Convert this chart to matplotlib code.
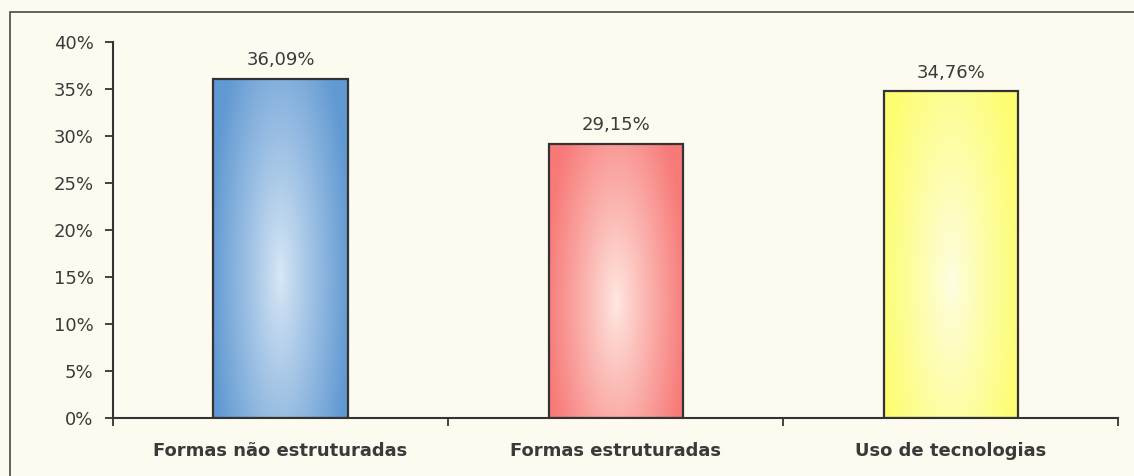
import numpy as np
import matplotlib.pyplot as plt
from matplotlib.patches import Rectangle
from matplotlib.colors import LinearSegmentedColormap

plt.rcParams['font.family'] = ['DejaVu Sans']

# dados
categorias = ['Formas não estruturadas', 'Formas estruturadas', 'Uso de tecnologias']
valores = [36.09, 29.15, 34.76]
rotulos = ['36,09%', '29,15%', '34,76%']
yticks = [0, 5, 10, 15, 20, 25, 30, 35, 40]

# cor da borda e cor do centro do gradiente de cada barra
cores = [('#6199d2', '#d9e8f6'),
         ('#f77a78', '#ffe9e2'),
         ('#fdfd72', '#fefee2')]

fundo = '#fdfbf0'
texto = '#3a3a3a'

fig = plt.figure(figsize=(11.34, 4.76), dpi=100, facecolor=fundo)
ax = fig.add_axes([0.0996, 0.122, 0.8866, 0.79])
ax.set_facecolor(fundo)

# moldura externa (so esquerda e topo aparecem)
fig.patches.append(Rectangle((10 / 1134, -0.1), 1.2, 1.1 - 12 / 476,
                             transform=fig.transFigure, fill=False,
                             edgecolor='#555555', lw=1.3))

largura = 0.4
x = np.arange(len(categorias))

# gradiente: claro no centro, escuro nas bordas
nx, ny = 200, 300
gx = np.linspace(-1, 1, nx)
gy = np.linspace(0, 1, ny)
GX, GY = np.meshgrid(gx, gy)
dist = np.sqrt((GX / 1.05) ** 2 + ((GY - 0.42) / 0.85) ** 2)
dist = np.clip(dist, 0, 1) ** 0.9

for i, v in enumerate(valores):
    borda, centro = cores[i]
    cmap = LinearSegmentedColormap.from_list('g%d' % i, [centro, borda])
    x0 = x[i] - largura / 2
    rect = Rectangle((x0, 0), largura, v, facecolor='none',
                     edgecolor='#333333', lw=1.6, zorder=3)
    ax.add_patch(rect)
    im = ax.imshow(dist, cmap=cmap, vmin=0, vmax=1, origin='lower',
                   extent=(x0, x0 + largura, 0, v), aspect='auto',
                   interpolation='bilinear', zorder=2)
    im.set_clip_path(rect)
    ax.text(x[i], v + 1.0, rotulos[i], ha='center', va='bottom',
            fontsize=13, color=texto)

ax.set_xlim(-0.5, len(categorias) - 0.5)
ax.set_ylim(0, 40)

ax.set_yticks(yticks)
ax.set_yticklabels(['%d%%' % t for t in yticks])
ax.set_xticks(x)
ax.set_xticklabels(categorias, fontweight='bold', fontsize=13)
ax.set_xticks(np.arange(len(categorias) + 1) - 0.5, minor=True)

ax.tick_params(axis='y', direction='out', length=6, width=1.3, pad=8,
               labelsize=13, colors='#333333', labelcolor=texto)
ax.tick_params(axis='x', which='major', length=0, pad=17, labelcolor=texto)
ax.tick_params(axis='x', which='minor', direction='out', length=6,
               width=1.3, colors='#333333')

for s in ['top', 'right']:
    ax.spines[s].set_visible(False)
for s in ['left', 'bottom']:
    ax.spines[s].set_color('#333333')
    ax.spines[s].set_linewidth(1.5)

fig.savefig('out.png', dpi=100, facecolor=fundo)
